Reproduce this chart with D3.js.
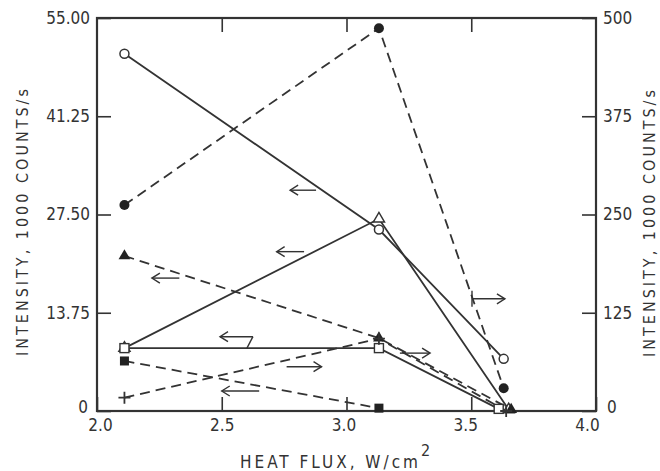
<!DOCTYPE html>
<html><head><meta charset="utf-8">
<script src="https://cdn.jsdelivr.net/npm/d3@7"></script>
<style>
body{margin:0;background:#fff;}
svg{display:block;}
text{font-family:"DejaVu Sans Condensed","DejaVu Sans",sans-serif;fill:#333;}
</style></head>
<body>
<svg id="c" width="660" height="471"></svg>
<script>
// ---- data ----
const xTicks = [2.0, 2.5, 3.0, 3.5, 4.0];
const leftTicks = [0, 13.75, 27.5, 41.25, 55];
const rightTicks = [0, 125, 250, 375, 500];

// open circle, solid, left axis
const openCircleX = [2.11, 3.13, 3.63];
const openCircleY = [50.0, 25.4, 7.3];
// filled circle, dashed, right axis
const filledCircleX = [2.11, 3.13, 3.63];
const filledCircleY = [262, 487, 29];
// open triangle, solid, left axis
const openTriX = [2.11, 3.13, 3.65];
const openTriY = [8.8, 26.9, 0.2];
// open square, solid, left axis
const openSqX = [2.11, 3.13, 3.61];
const openSqY = [8.8, 8.8, 0.3];
// filled triangle, dashed, left axis
const filledTriX = [2.11, 3.13, 3.66];
const filledTriY = [21.7, 10.2, 0.2];
// filled square, dashed, left axis
const filledSqX = [2.11, 3.13];
const filledSqY = [7.0, 0.4];
// plus, dashed, right axis
const plusX = [2.11, 3.13, 3.64];
const plusY = [17, 92, 0];

// arrow annotations (heat flux, left-axis intensity)
const arrowX0 = [2.774, 2.72, 2.22, 2.493, 2.76, 2.50, 3.214, 3.503];
const arrowX1 = [2.878, 2.83, 2.33, 2.625, 2.90, 2.65, 3.335, 3.635];
const arrowY  = [30.9, 22.3, 18.6, 10.4, 6.2, 2.8, 8.1, 15.7];
const arrowDir = ["L","L","L","L","R","L","R","R"];

// ---- drawing ----
const svg = d3.select("#c");
const L = 97, R = 596, T = 18, B = 411;
const x = d3.scaleLinear().domain([2, 4]).range([L, R]);
const yL = d3.scaleLinear().domain([0, 55]).range([B, T]);
const yR = d3.scaleLinear().domain([0, 500]).range([B, T]);
const ink = "#333";

function styleAxis(g){
  g.select(".domain").remove();
  g.selectAll(".tick line").attr("stroke", ink).attr("stroke-width", 1.6);
  g.selectAll(".tick text").attr("font-size", 17).attr("fill", ink)
    .style("font-family", '"DejaVu Sans Condensed","DejaVu Sans",sans-serif');
}

svg.append("g").attr("transform", `translate(0,${B})`)
  .call(d3.axisBottom(x).tickValues(xTicks).tickFormat(d3.format(".1f"))
    .tickSizeInner(-14).tickSizeOuter(0).tickPadding(8))
  .call(styleAxis)
  .call(g => g.selectAll(".tick text").attr("dx", d => 3 - 6 * (d - 2)));

svg.append("g").attr("transform", `translate(0,${T})`)
  .call(d3.axisTop(x).tickValues(xTicks.slice(1, -1)).tickFormat("")
    .tickSizeInner(-14).tickSizeOuter(0))
  .call(styleAxis);

svg.append("g").attr("transform", `translate(${L},0)`)
  .call(d3.axisLeft(yL).tickValues(leftTicks)
    .tickFormat(d => d === 0 ? "0" : d.toFixed(2))
    .tickSizeInner(-14).tickSizeOuter(0).tickPadding(7))
  .call(styleAxis)
  .call(g => g.selectAll(".tick text").filter(d => d === 0).attr("dy", "0.1em").attr("dx", -2));

svg.append("g").attr("transform", `translate(${R},0)`)
  .call(d3.axisRight(yR).tickValues(rightTicks)
    .tickSizeInner(-14).tickSizeOuter(0).tickPadding(7))
  .call(styleAxis)
  .call(g => g.selectAll(".tick text").filter(d => d === 0).attr("dy", "0.1em").attr("dx", 4));

// frame
svg.append("rect").attr("x", L).attr("y", T).attr("width", R - L).attr("height", B - T)
  .attr("fill", "none").attr("stroke", ink).attr("stroke-width", 2.2);

// titles
svg.append("text").attr("x", 240).attr("y", 468).attr("font-size", 17)
  .attr("letter-spacing", 3).text("HEAT FLUX,  W/cm")
  .append("tspan").attr("dy", -12).attr("font-size", 16).text("2");

svg.append("text").attr("transform", "translate(28,221) rotate(-90)")
  .attr("text-anchor", "middle").attr("font-size", 16).attr("letter-spacing", 3)
  .text("INTENSITY,  1000  COUNTS/s");
svg.append("text").attr("transform", "translate(655,222) rotate(-90)")
  .attr("text-anchor", "middle").attr("font-size", 16).attr("letter-spacing", 3)
  .text("INTENSITY,  1000  COUNTS/s");

// series
const series = [
  {xs: openCircleX, ys: openCircleY, y: yL, dash: null, m: "oc"},
  {xs: filledCircleX, ys: filledCircleY, y: yR, dash: "10,6", m: "fc"},
  {xs: openTriX, ys: openTriY, y: yL, dash: null, m: "ot"},
  {xs: openSqX, ys: openSqY, y: yL, dash: null, m: "os"},
  {xs: filledTriX, ys: filledTriY, y: yL, dash: "10,6", m: "ft"},
  {xs: filledSqX, ys: filledSqY, y: yL, dash: "10,6", m: "fs"},
  {xs: plusX, ys: plusY, y: yR, dash: "10,6", m: "pl"}
];

const lineG = svg.append("g");
const markG = svg.append("g");
series.forEach(s => {
  const pts = s.xs.map((v, i) => [v, s.ys[i]]);
  const line = d3.line().x(d => x(d[0])).y(d => s.y(d[1]));
  lineG.append("path").datum(pts).attr("d", line).attr("fill", "none")
    .attr("stroke", ink).attr("stroke-width", 1.8)
    .attr("stroke-dasharray", s.dash);
  pts.forEach(d => {
    const cx = x(d[0]), cy = s.y(d[1]);
    if (s.m === "oc") markG.append("circle").attr("cx", cx).attr("cy", cy).attr("r", 4.5)
      .attr("fill", "#fff").attr("stroke", ink).attr("stroke-width", 1.5);
    if (s.m === "fc") markG.append("circle").attr("cx", cx).attr("cy", cy).attr("r", 5)
      .attr("fill", "#222");
    if (s.m === "ot") markG.append("path")
      .attr("d", d3.symbol(d3.symbolTriangle, 55)()).attr("transform", `translate(${cx},${cy})`)
      .attr("fill", "#fff").attr("stroke", ink).attr("stroke-width", 1.4);
    if (s.m === "ft") markG.append("path")
      .attr("d", d3.symbol(d3.symbolTriangle, 60)()).attr("transform", `translate(${cx},${cy})`)
      .attr("fill", "#222");
    if (s.m === "os") markG.append("rect").attr("x", cx - 4.5).attr("y", cy - 4.5)
      .attr("width", 9).attr("height", 9).attr("fill", "#fff").attr("stroke", ink).attr("stroke-width", 1.4);
    if (s.m === "fs") markG.append("rect").attr("x", cx - 4.5).attr("y", cy - 4.5)
      .attr("width", 9).attr("height", 9).attr("fill", "#222");
    if (s.m === "pl") markG.append("path")
      .attr("d", `M${cx-6},${cy}H${cx+6}M${cx},${cy-6}V${cy+6}`)
      .attr("stroke", ink).attr("stroke-width", 1.8);
  });
});

// arrows
const arrG = svg.append("g").attr("fill", "none").attr("stroke", ink).attr("stroke-width", 1.4);
arrowX0.forEach((v, i) => {
  const a = x(v), b = x(arrowX1[i]), yy = yL(arrowY[i]);
  arrG.append("path").attr("d", `M${a},${yy}H${b}`);
  if (arrowDir[i] === "L") arrG.append("path").attr("d", `M${a+8},${yy-5}L${a},${yy}L${a+8},${yy+5}`);
  else arrG.append("path").attr("d", `M${b-8},${yy-5}L${b},${yy}L${b-8},${yy+5}`);
  if (i === 3) arrG.append("path").attr("d", `M${b},${yy}L${b-6},${yL(openSqY[0])}`);
  if (i === 7) arrG.append("path").attr("d", `M${a},${yy-8}V${yy+8}`);
});
</script>
</body></html>
